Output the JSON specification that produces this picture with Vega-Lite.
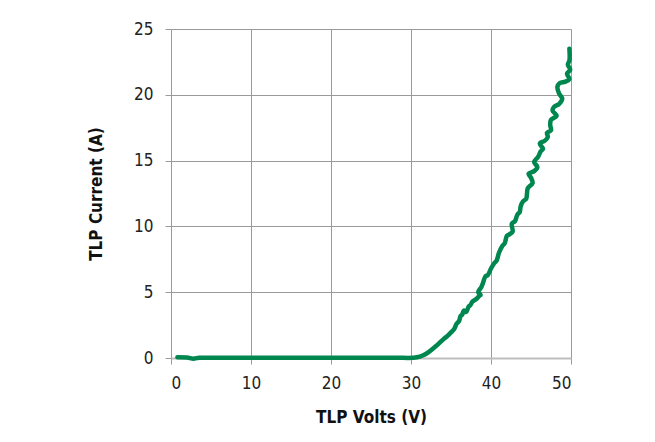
{
  "$schema": "https://vega.github.io/schema/vega-lite/v6.json",
  "width": 400,
  "height": 329,
  "autosize": {"type": "none"},
  "padding": {"left": 171, "top": 29, "right": 84, "bottom": 84},
  "background": "white",
  "config": {
    "view": {"stroke": null},
    "font": "DejaVu Sans Condensed, sans-serif"
  },
  "data": {
    "values": [
      {"i": 1, "v": 0.8, "a": 0.05},
      {"i": 2, "v": 2.0, "a": 0.03},
      {"i": 3, "v": 2.8, "a": -0.05},
      {"i": 4, "v": 3.5, "a": 0.02},
      {"i": 4.5, "v": 4.2, "a": 0.02},
      {"i": 4.7, "v": 6, "a": 0.02},
      {"i": 5, "v": 10, "a": 0.02},
      {"i": 6, "v": 20, "a": 0.02},
      {"i": 7, "v": 28, "a": 0.02},
      {"i": 8, "v": 30.3, "a": 0.02},
      {"i": 9, "v": 31.1, "a": 0.1},
      {"i": 10, "v": 32.0, "a": 0.36},
      {"i": 11, "v": 32.8, "a": 0.74},
      {"i": 12, "v": 33.4, "a": 1.05},
      {"i": 13, "v": 34.0, "a": 1.4},
      {"i": 14, "v": 34.6, "a": 1.7},
      {"i": 15, "v": 35.1, "a": 2.0},
      {"i": 16, "v": 35.4, "a": 2.2},
      {"i": 17, "v": 35.7, "a": 2.6},
      {"i": 18, "v": 36.0, "a": 2.8},
      {"i": 19, "v": 36.2, "a": 3.2},
      {"i": 20, "v": 36.4, "a": 3.3},
      {"i": 21, "v": 36.6, "a": 3.6},
      {"i": 22, "v": 36.9, "a": 3.5},
      {"i": 23, "v": 37.2, "a": 3.9},
      {"i": 24, "v": 37.4, "a": 4.0},
      {"i": 25, "v": 37.7, "a": 4.3},
      {"i": 26, "v": 38.2, "a": 4.5},
      {"i": 27, "v": 38.5, "a": 4.7},
      {"i": 28, "v": 38.7, "a": 4.8},
      {"i": 29, "v": 38.4, "a": 5.0},
      {"i": 30, "v": 38.8, "a": 5.4},
      {"i": 31, "v": 39.0, "a": 5.7},
      {"i": 32, "v": 39.3, "a": 6.2},
      {"i": 33, "v": 39.6, "a": 6.3},
      {"i": 34, "v": 40.0, "a": 6.8},
      {"i": 35, "v": 40.4, "a": 7.2},
      {"i": 36, "v": 40.7, "a": 7.4},
      {"i": 37, "v": 41.0, "a": 8.0},
      {"i": 38, "v": 41.4, "a": 8.5},
      {"i": 39, "v": 41.7, "a": 8.7},
      {"i": 40, "v": 42.0, "a": 9.3},
      {"i": 41, "v": 42.3, "a": 9.4},
      {"i": 42, "v": 42.7, "a": 9.6},
      {"i": 43, "v": 42.6, "a": 10.2},
      {"i": 44, "v": 43.0, "a": 10.4},
      {"i": 45, "v": 43.3, "a": 10.9},
      {"i": 46, "v": 43.6, "a": 11.1},
      {"i": 47, "v": 43.7, "a": 11.5},
      {"i": 48, "v": 44.0, "a": 11.9},
      {"i": 49, "v": 44.4, "a": 12.1},
      {"i": 50, "v": 44.5, "a": 12.5},
      {"i": 51, "v": 44.6, "a": 12.9},
      {"i": 52, "v": 45.2, "a": 13.3},
      {"i": 53, "v": 45.0, "a": 13.7},
      {"i": 54, "v": 44.7, "a": 14.0},
      {"i": 55, "v": 45.4, "a": 14.2},
      {"i": 56, "v": 45.8, "a": 14.5},
      {"i": 57, "v": 45.4, "a": 14.9},
      {"i": 58, "v": 45.9, "a": 15.3},
      {"i": 59, "v": 46.2, "a": 15.7},
      {"i": 60, "v": 46.5, "a": 15.9},
      {"i": 61, "v": 46.1, "a": 16.3},
      {"i": 62, "v": 46.7, "a": 16.5},
      {"i": 63, "v": 47.1, "a": 16.8},
      {"i": 64, "v": 47.0, "a": 17.1},
      {"i": 65, "v": 47.5, "a": 17.3},
      {"i": 66, "v": 47.4, "a": 17.7},
      {"i": 67, "v": 47.5, "a": 18.1},
      {"i": 68, "v": 48.2, "a": 18.4},
      {"i": 69, "v": 47.7, "a": 18.8},
      {"i": 70, "v": 47.9, "a": 19.1},
      {"i": 71, "v": 48.5, "a": 19.3},
      {"i": 72, "v": 48.9, "a": 19.7},
      {"i": 73, "v": 48.5, "a": 20.1},
      {"i": 74, "v": 48.3, "a": 20.6},
      {"i": 75, "v": 48.6, "a": 20.9},
      {"i": 76, "v": 49.3, "a": 21.0},
      {"i": 77, "v": 49.8, "a": 21.2},
      {"i": 78, "v": 49.5, "a": 21.6},
      {"i": 79, "v": 49.9, "a": 21.9},
      {"i": 80, "v": 49.6, "a": 22.3},
      {"i": 81, "v": 49.8, "a": 22.6},
      {"i": 82, "v": 49.8, "a": 23.5}
    ]
  },
  "mark": {"type": "line", "color": "#00874f", "strokeWidth": 4.5, "strokeCap": "round", "strokeJoin": "round", "interpolate": "catmull-rom"},
  "encoding": {
    "x": {
      "field": "v", "type": "quantitative",
      "scale": {"domain": [0, 50], "nice": false, "zero": false},
      "axis": {
        "title": "TLP Volts (V)", "values": [0, 10, 20, 30, 40, 50],
        "grid": true, "gridColor": "#9a9a9a", "gridWidth": 1,
        "domain": true, "domainColor": "#bdbdbd", "domainWidth": 2,
        "ticks": true, "tickColor": "#9a9a9a", "tickSize": 6,
        "labelFontSize": 17, "labelColor": "#222", "labelPadding": 11,
        "titleFontSize": 17, "titleFontWeight": "bold", "titleColor": "#111", "titlePadding": 18
      }
    },
    "y": {
      "field": "a", "type": "quantitative",
      "scale": {"domain": [0, 25], "nice": false, "zero": false},
      "axis": {
        "title": "TLP Current (A)", "values": [0, 5, 10, 15, 20, 25],
        "grid": true, "gridColor": "#9a9a9a", "gridWidth": 1,
        "domain": false,
        "ticks": true, "tickColor": "#9a9a9a", "tickSize": 6,
        "labelFontSize": 17, "labelColor": "#222", "labelPadding": 12,
        "titleFontSize": 17, "titleFontWeight": "bold", "titleColor": "#111", "titlePadding": 28
      }
    },
    "order": {"field": "i", "type": "quantitative"}
  }
}
